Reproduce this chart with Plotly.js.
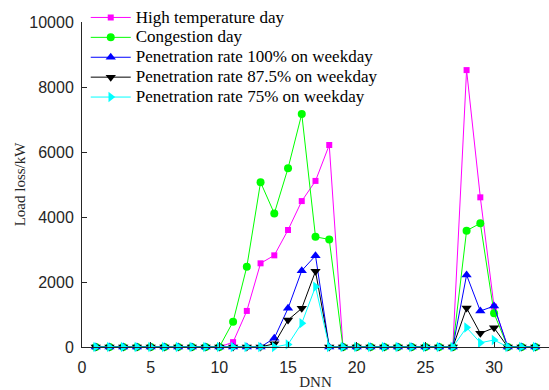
<!DOCTYPE html>
<html>
<head>
<meta charset="utf-8">
<script src="https://cdn.plot.ly/plotly-3.0.1.min.js"></script>
<style>html,body{margin:0;padding:0;background:#fff;}#chart{width:549px;height:390px;}</style>
</head>
<body>
<div id="chart"></div>
<script>
const dnn = [1,2,3,4,5,6,7,8,9,10,11,12,13,14,15,16,17,18,19,20,21,22,23,24,25,26,27,28,29,30,31,32,33];
const highTemp   = [0,0,0,0,0,0,0,0,0,0,150,1110,2575,2820,3600,4490,5110,6215,0,0,0,0,0,0,0,0,0,8520,4605,1240,0,0,0];
const congestion = [0,0,0,0,0,0,0,0,0,0,780,2470,5070,4110,5500,7170,3390,3310,0,0,0,0,0,0,0,0,0,3580,3805,1035,0,0,0];
const pen100     = [0,0,0,0,0,0,0,0,0,0,0,0,0,270,1190,2350,2810,0,0,0,0,0,0,0,0,0,0,2215,1108,1260,0,0,0];
const pen875     = [0,0,0,0,0,0,0,0,0,0,0,0,0,100,830,1190,2330,0,0,0,0,0,0,0,0,0,0,1200,420,590,0,0,0];
const pen75      = [0,0,0,0,0,0,0,0,0,0,0,0,0,0,80,730,1855,0,0,0,0,0,0,0,0,0,0,600,130,215,0,0,0];
const seriesNames = ["High temperature day","Congestion day","Penetration rate 100% on weekday","Penetration rate 87.5% on weekday","Penetration rate 75% on weekday"];
const xTicks = [0,5,10,15,20,25,30];
const yTicks = [0,2000,4000,6000,8000,10000];

const styles = [
  {color:"#ff00ff", symbol:"square", size:6},
  {color:"#00ff00", symbol:"circle", size:8},
  {color:"#0000ff", symbol:"triangle-up", size:9},
  {color:"#000000", symbol:"triangle-down", size:9},
  {color:"#00ffff", symbol:"triangle-right", size:9}
];
const ys = [highTemp, congestion, pen100, pen875, pen75];
const traces = ys.map((y,i)=>({
  x: dnn, y: y, name: '<span style="font-size:17px">' + seriesNames[i] + '</span>', type:"scatter", mode:"lines+markers",
  cliponaxis:false,
  line:{color:styles[i].color, width:1},
  marker:{color:styles[i].color, symbol:styles[i].symbol, size:styles[i].size, line:{width:0}}
}));

const axisFont = {family:"Liberation Sans, Arial, sans-serif", size:16, color:"#262626"};
const layout = {
  width:549, height:390,
  margin:{l:82, r:0, t:22, b:43, pad:0},
  paper_bgcolor:"#fff", plot_bgcolor:"#fff",
  showlegend:true,
  legend:{x:0.008, y:1.06, xanchor:"left", yanchor:"top", bgcolor:"rgba(0,0,0,0)", borderwidth:0,
          font:{family:"Liberation Serif, Times New Roman, serif", size:13, color:"#000"}, itemwidth:40},
  xaxis:{range:[0,34], tickvals:xTicks, ticktext:xTicks.map(String), ticks:"inside", ticklen:5, tickcolor:"#262626",
         showline:true, linecolor:"#262626", linewidth:1, showgrid:false, zeroline:false, tickfont:axisFont,
         ticklabelstandoff:6,
         title:{text:"DNN", font:{family:"Liberation Serif, Times New Roman, serif", size:15, color:"#262626"}, standoff:4}},
  yaxis:{range:[0,10000], tickvals:yTicks, ticktext:yTicks.map(String), ticks:"inside", ticklen:5, tickcolor:"#262626",
         showline:true, linecolor:"#262626", linewidth:1, showgrid:false, zeroline:false, tickfont:axisFont,
         ticklabelstandoff:4,
         title:{text:"Load loss/kW", font:{family:"Liberation Serif, Times New Roman, serif", size:15, color:"#262626"}, standoff:0}}
};
Plotly.newPlot("chart", traces, layout, {staticPlot:true, displayModeBar:false});
</script>
</body>
</html>
